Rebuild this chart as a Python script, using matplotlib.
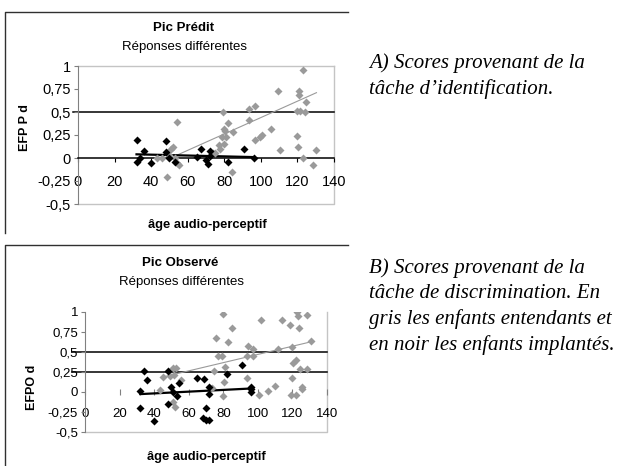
import matplotlib
matplotlib.use("Agg")
import matplotlib.pyplot as plt
from matplotlib.lines import Line2D

plt.rcParams['font.family'] = ['Liberation Sans', 'DejaVu Sans']

# --- A) identification task ---
gray_x_a = [43, 46, 48.5, 50, 51, 52, 53, 54, 54, 55,
            74, 75, 77, 77.5, 78.5, 79.5, 80, 80, 80.3, 81, 82, 84.5, 84,
            93.6, 93.6, 96.7, 96.7, 99.4, 100.4, 105.3,
            109.5, 110.4, 119.5, 120, 120.4, 121, 121, 121.6, 123, 123, 124, 124.6, 128.6, 130.4]
gray_y_a = [0.0, 0.0, -0.21, 0.03, 0.1, 0.12, 0.0, 0.39, -0.05, -0.08,
            0.05, 0.05, 0.14, 0.1, 0.23, 0.5, 0.32, 0.15, 0.29, 0.23, 0.38, 0.28, -0.15,
            0.53, 0.41, 0.56, 0.2, 0.23, 0.25, 0.32,
            0.73, 0.087, 0.24, 0.51, 0.12, 0.73, 0.69, 0.51, 0.957, 0.0, 0.5, 0.61, -0.076, 0.087]
black_x_a = [32, 32, 34, 36, 40, 48, 48, 50, 53, 65, 67, 70, 71, 72, 72, 82, 91, 96]
black_y_a = [0.20, -0.04, 0.0, 0.08, -0.05, 0.18, 0.07, 0.0, -0.04, 0.01, 0.10, -0.02, -0.07, 0.08, 0.02, -0.04, 0.10, 0.0]
trend_gray_x_a = [54, 130.4]
trend_gray_y_a = [0.03, 0.71]
trend_black_x_a = [32, 96]
trend_black_y_a = [0.04, 0.01]
ref_lines_a = [0.5]

# --- B) discrimination task ---
gray_x_b = [43.4, 45, 49, 51, 51.5, 52.5, 55.3, 51, 52,
            73.7, 74.6, 76, 77, 79.5, 80, 80, 80.5, 81, 83, 84.8,
            93.8, 94, 94.4, 97.3, 97.3, 100.8, 101.7, 106, 110, 111.7, 113.7,
            118.5, 119, 119.5, 120, 120.4, 122, 122, 122.4, 123.3, 124, 124.3, 125.3, 125.8, 128.5, 128.6, 131]
gray_y_b = [0.02, 0.18, 0.2, 0.3, 0.21, 0.3, 0.15, -0.13, -0.19,
            0.05, 0.26, 0.67, 0.44, 0.44, 0.97, -0.05, 0.12, 0.31, 0.62, 0.79,
            0.44, 0.17, 0.57, 0.44, 0.53, -0.04, 0.9, 0.01, 0.07, 0.53, 0.89,
            0.83, -0.04, 0.555, 0.17, 0.36, 0.4, -0.04, 0.99, 0.95, 0.8, 0.28, 0.055, 0.03, 0.955, 0.28, 0.63]
black_x_b = [32, 32, 34, 36, 40, 48, 48, 50, 51, 53, 54.5, 65, 68, 69, 70, 70, 72, 72, 72, 82, 91, 96, 96, 96]
black_y_b = [0.01, -0.21, 0.26, 0.15, -0.37, 0.26, -0.15, 0.06, 0.0, -0.05, 0.11, 0.17, -0.33, 0.155,
             -0.21, -0.35, 0.06, -0.03, -0.35, 0.22, 0.33, 0.06, 0.03, 0.0]
trend_gray_x_b = [44.3, 132]
trend_gray_y_b = [0.18, 0.63]
trend_black_x_b = [32, 96]
trend_black_y_b = [-0.03, 0.04]
ref_lines_b = [0.5, 0.25]

x_ticks = [0, 20, 40, 60, 80, 100, 120, 140]
y_ticks = [-0.5, -0.25, 0, 0.25, 0.5, 0.75, 1]
y_tick_labels = ["-0,5", "-0,25", "0", "0,25", "0,5", "0,75", "1"]

GRAY = "#9a9a9a"
W, H = 620, 466


def px(x0, y0, x1, y1):
    # pixel box (top-left origin) -> figure rect
    return [x0 / W, 1 - y1 / H, (x1 - x0) / W, (y1 - y0) / H]


def draw_panel(ax, gx, gy, bx, by, tgx, tgy, tbx, tby, refs, fs, pad, show_zero, line_left):
    ax.set_xlim(0, 140)
    ax.set_ylim(-0.5, 1)
    for r in refs:
        ax.axhline(r, xmin=line_left, xmax=1, color="black", lw=1.1, clip_on=False, zorder=1)
    ax.plot(tgx, tgy, color=GRAY, lw=0.8, zorder=2)
    ax.plot(tbx, tby, color="black", lw=1.6, zorder=2)
    ax.plot(gx, gy, "D", color=GRAY, ms=3.8, mec="none", zorder=3)
    ax.plot(bx, by, "D", color="black", ms=3.8, mec="none", zorder=4)

    for s in ["top", "right"]:
        ax.spines[s].set_visible(False)
    ax.spines["left"].set_color("#808080")
    ax.spines["bottom"].set_position(("data", 0))
    if show_zero:
        ax.spines["bottom"].set_color("black")
        ax.spines["bottom"].set_linewidth(1.1)
        ax.tick_params(axis="x", direction="out", length=3, color="black")
    else:
        ax.spines["bottom"].set_color("none")
        ax.tick_params(axis="x", direction="inout", length=4, color="#808080")
    ax.set_xticks(x_ticks)
    ax.set_xticklabels([str(t) for t in x_ticks])
    ax.set_yticks(y_ticks)
    ax.set_yticklabels(y_tick_labels)
    ax.tick_params(axis="y", direction="out", length=3, color="#808080", pad=2, labelsize=fs)
    ax.tick_params(axis="x", pad=pad, labelsize=fs)
    # plot area border
    ax.add_line(Line2D([0, 1, 1], [0, 0, 1], transform=ax.transAxes, color="#c4c4c4",
                       lw=1, clip_on=False, zorder=0))


fig = plt.figure(figsize=(6.2, 4.66), dpi=100)

ax_a = fig.add_axes(px(78, 66, 334, 204))
draw_panel(ax_a, gray_x_a, gray_y_a, black_x_a, black_y_a,
           trend_gray_x_a, trend_gray_y_a, trend_black_x_a, trend_black_y_a,
           ref_lines_a, 10.5, 9, True, -0.02)
ax_a.add_line(Line2D([0, 1], [1, 1], transform=ax_a.transAxes, color="#c4c4c4", lw=1, clip_on=False, zorder=0))

ax_b = fig.add_axes(px(85, 311.7, 327, 431.7))
draw_panel(ax_b, gray_x_b, gray_y_b, black_x_b, black_y_b,
           trend_gray_x_b, trend_gray_y_b, trend_black_x_b, trend_black_y_b,
           ref_lines_b, 9.5, 10, False, -0.055)

# chart frames (top and left edges only, the rest is cropped)
for top, bottom in [(12, 233), (245, 466)]:
    fig.add_artist(Line2D([5 / W, 5 / W, 348 / W], [1 - bottom / H, 1 - top / H, 1 - top / H],
                          color="#303030", lw=1))

# titles and axis labels
fig.text(184 / W, 1 - 28 / H, "Pic Prédit", ha="center", va="center", fontsize=9.5, fontweight="bold")
fig.text(184 / W, 1 - 47 / H, "Réponses différentes", ha="center", va="center", fontsize=9.5)
fig.text(180 / W, 1 - 263 / H, "Pic Observé", ha="center", va="center", fontsize=9.5, fontweight="bold")
fig.text(182 / W, 1 - 282 / H, "Réponses différentes", ha="center", va="center", fontsize=9.5)
fig.text(25 / W, 1 - 128 / H, "EFP P d", ha="center", va="center", rotation=90, fontsize=9, fontweight="bold")
fig.text(32 / W, 1 - 387 / H, "EFPO d", ha="center", va="center", rotation=90, fontsize=9, fontweight="bold")
fig.text(207 / W, 1 - 225 / H, "âge audio-perceptif", ha="center", va="center", fontsize=9.3, fontweight="bold")
fig.text(206 / W, 1 - 457 / H, "âge audio-perceptif", ha="center", va="center", fontsize=9.3, fontweight="bold")

# captions on the right
cap = dict(ha="left", va="top", fontsize=15, style="italic", family="Liberation Serif", linespacing=1.43)
fig.text(369 / W, 1 - 53 / H, "A) Scores provenant de la\ntâche d\u2019identification.", **cap)
fig.text(369 / W, 1 - 258 / H, "B) Scores provenant de la\ntâche de discrimination. En\n"
         "gris les enfants entendants et\nen noir les enfants implantés.", **cap)

fig.savefig("out.png", dpi=100)
